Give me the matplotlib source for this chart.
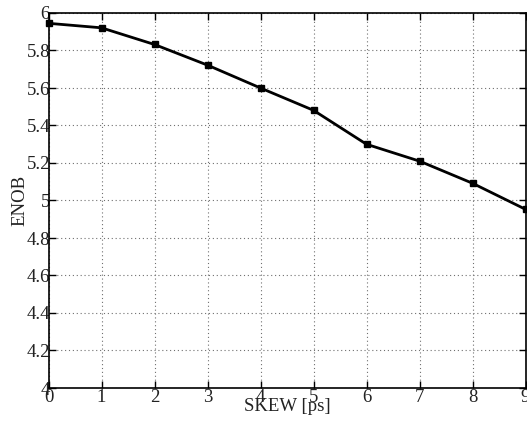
import matplotlib
matplotlib.use("Agg")
import matplotlib.pyplot as plt

skew_ps = [0, 1, 2, 3, 4, 5, 6, 7, 8, 9]
enob = [5.945, 5.921, 5.832, 5.722, 5.600, 5.481, 5.300, 5.210, 5.092, 4.953]
x_ticks = [0, 1, 2, 3, 4, 5, 6, 7, 8, 9]
y_ticks = [4, 4.2, 4.4, 4.6, 4.8, 5, 5.2, 5.4, 5.6, 5.8, 6]
y_tick_labels = ["4", "4.2", "4.4", "4.6", "4.8", "5", "5.2", "5.4", "5.6", "5.8", "6"]

plt.rcParams["font.family"] = ["Liberation Serif", "DejaVu Serif"]

fig = plt.figure(figsize=(5.27, 4.23), dpi=100)
ax = fig.add_axes([48.5 / 527, 1 - 388 / 423, (525.5 - 48.5) / 527, (388 - 13) / 423])

ax.plot(skew_ps, enob, color="black", linewidth=2.0, marker="s", markersize=4.5,
        markerfacecolor="black", markeredgecolor="black", zorder=3, clip_on=False)

ax.set_xlim(0, 9)
ax.set_ylim(4, 6)
ax.set_xticks(x_ticks)
ax.set_yticks(y_ticks)
ax.set_yticklabels(y_tick_labels)

ax.grid(True, linestyle=(0, (1, 2.5)), color="#707070", linewidth=0.8)
ax.tick_params(direction="in", length=5, width=1, top=True, right=True,
               labelsize=13.5, colors="black", labelcolor="#222222", pad=1)
ax.tick_params(axis="y", pad=-1)
for s in ax.spines.values():
    s.set_linewidth(1.2)

ax.set_xlabel("SKEW [ps]", fontsize=13.5, labelpad=-6, color="#222222")
ax.set_ylabel("ENOB", fontsize=13.5, labelpad=-1.5, color="#222222")

fig.savefig("out.png", dpi=100)
